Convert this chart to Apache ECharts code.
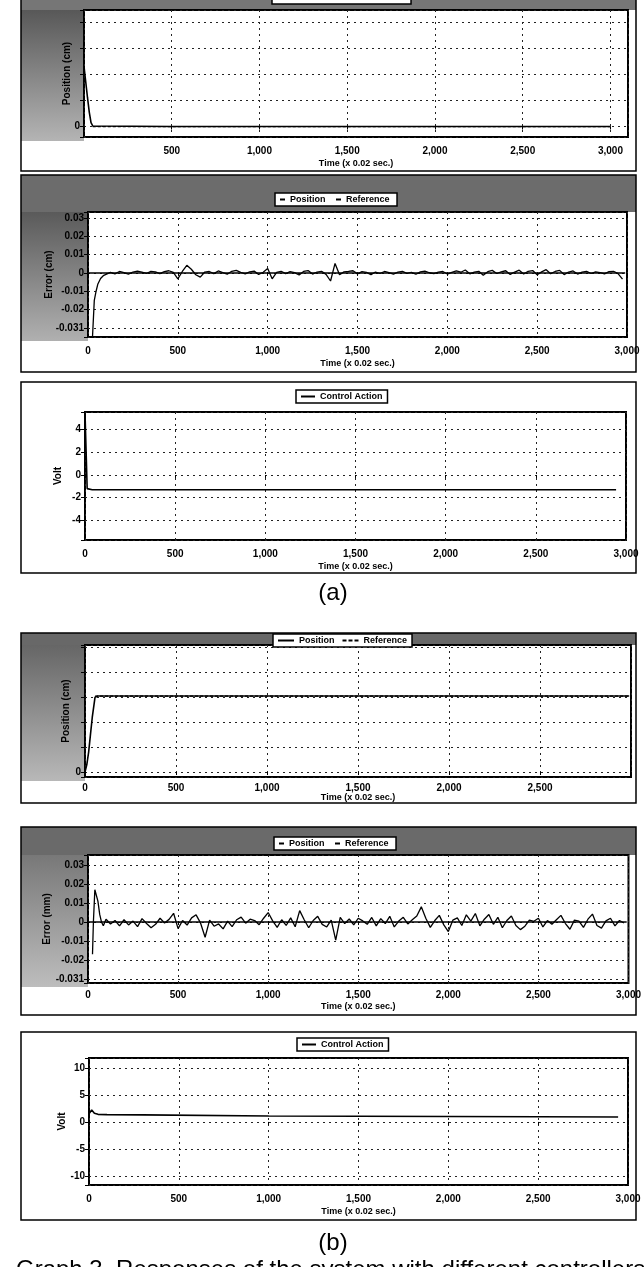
<!DOCTYPE html>
<html><head><meta charset="utf-8">
<script src="https://cdn.jsdelivr.net/npm/echarts@6/dist/echarts.min.js"></script>
<style>html,body{margin:0;padding:0;background:#fff}#c{width:644px;height:1267px}</style>
</head><body><div id="c"></div>
<script>
// ---------------- DATA ----------------
const xTicks = [0, 500, 1000, 1500, 2000, 2500, 3000];
const xLabelsFull = ['0', '500', '1,000', '1,500', '2,000', '2,500', '3,000'];
const xLabelsP1 = ['', '500', '1,000', '1,500', '2,000', '2,500', '3,000'];
const xLabelsP4 = ['0', '500', '1,000', '1,500', '2,000', '2,500', ''];
const xTitle = 'Time (x 0.02 sec.)';

const yTicksPos = [0, 1, 2, 3, 4, 5];
const yLabelsPos = ['0', '', '', '', '', ''];
const yTicksErr = [-0.03, -0.02, -0.01, 0, 0.01, 0.02, 0.03];
const yLabelsErr = ['-0.031', '-0.02', '-0.01', '0', '0.01', '0.02', '0.03'];
const yTicksVoltA = [-4, -2, 0, 2, 4];
const yLabelsVoltA = ['-4', '-2', '0', '2', '4'];
const yTicksVoltB = [-10, -5, 0, 5, 10];
const yLabelsVoltB = ['-10', '-5', '0', '5', '10'];

// (a) top panel: position
const tPosA = [0, 10, 20, 30, 40, 50, 60, 500, 1000, 1500, 2000, 2500, 3000];
const vPosA = [2.3, 1.7, 1.1, 0.55, 0.15, 0.02, 0, 0, 0, 0, 0, 0, 0];
const tRefA = [50, 3000];
const vRefA = [0, 0];

// error samples (shared sample times after the transient)
const tErr = [100,125,150,175,200,225,250,275,300,325,350,375,400,425,450,475,500,525,550,575,
  600,625,650,675,700,725,750,775,800,825,850,875,900,925,950,975,1000,1025,1050,1075,
  1100,1125,1150,1175,1200,1225,1250,1275,1300,1325,1350,1375,1400,1425,1450,1475,1500,1525,1550,1575,
  1600,1625,1650,1675,1700,1725,1750,1775,1800,1825,1850,1875,1900,1925,1950,1975,2000,2025,2050,2075,
  2100,2125,2150,2175,2200,2225,2250,2275,2300,2325,2350,2375,2400,2425,2450,2475,2500,2525,2550,2575,
  2600,2625,2650,2675,2700,2725,2750,2775,2800,2825,2850,2875,2900,2925,2950,2975];

// (a) middle panel: error
const tErrInitA = [25, 35, 45, 55, 70, 85];
const vErrInitA = [-0.035, -0.015, -0.010, -0.006, -0.003, -0.0015];
const vErrA = [-0.0008,0.0003,-0.0005,0.0008,0.0002,-0.0006,0.0005,0.0010,0.0004,-0.0003,0.0009,0.0006,-0.0004,0.0007,0.0012,0.0003,-0.0032,0.0008,0.0042,0.0020,
  -0.0010,-0.0023,0.0005,0.0008,-0.0004,0.0011,0.0002,-0.0007,0.0009,0.0014,0.0003,-0.0005,0.0006,0.0010,-0.0008,0.0004,0.0024,-0.0032,0.0003,0.0009,
  -0.0004,0.0007,0.0002,-0.0011,0.0008,0.0013,-0.0006,0.0005,0.0009,-0.0008,-0.0044,0.0052,-0.0010,0.0006,0.0008,0.0012,-0.0005,0.0007,0.0003,-0.0009,
  0.0005,-0.0003,0.0008,0.0002,-0.0006,0.0004,0.0009,-0.0002,0.0003,-0.0007,0.0006,0.0010,0.0001,-0.0004,0.0005,0.0008,-0.0006,0.0003,0.0011,0.0004,
  0.0016,-0.0005,0.0004,0.0009,-0.0012,0.0007,0.0014,-0.0003,0.0006,0.0012,-0.0008,0.0005,0.0015,-0.0006,0.0009,0.0013,-0.0010,0.0006,0.0018,-0.0004,
  0.0008,0.0014,-0.0009,0.0005,0.0011,-0.0006,0.0004,0.0009,-0.0003,0.0006,0.0002,-0.0005,0.0007,0.0009,-0.0004,-0.0034];
const tErrRef = [0, 2990];
const vErrRef = [0, 0];

// (a) bottom panel: control action
const tCtrlA = [0, 12, 20, 40, 100, 500, 1000, 1500, 2000, 2500, 2945];
const vCtrlA = [5.5, -1.2, -1.3, -1.3, -1.3, -1.3, -1.3, -1.3, -1.3, -1.3, -1.3];

// (b) top panel: position
const tPosB = [0, 10, 20, 30, 40, 55, 70, 500, 1000, 1500, 2000, 2500, 2990];
const vPosB = [0, 0.3, 0.8, 1.5, 2.2, 3.0, 3.05, 3.05, 3.05, 3.05, 3.05, 3.05, 3.05];
const tRefB = [55, 2990];
const vRefB = [3.05, 3.05];

// (b) middle panel: error
const tErrInitB = [25, 30, 38, 45, 55, 65, 75, 85];
const vErrInitB = [-0.017, 0.0, 0.017, 0.018, 0.011, 0.004, 0.0, -0.002];
const vErrB = [0.0015,-0.0010,0.0008,-0.0020,0.0012,-0.0015,0.0005,-0.0024,0.0018,-0.0008,-0.0030,-0.0012,0.0020,-0.0005,0.0014,0.0046,-0.0035,0.0008,-0.0016,0.0022,
  0.0038,-0.0006,-0.0080,0.0010,-0.0022,-0.0010,-0.0036,0.0005,-0.0024,0.0012,0.0026,-0.0006,0.0015,0.0008,-0.0014,0.0020,0.0050,0.0006,-0.0028,0.0012,
  -0.0018,0.0022,-0.0025,0.0060,0.0012,-0.0030,0.0008,0.0030,-0.0012,-0.0026,0.0010,-0.0095,0.0024,-0.0008,0.0016,-0.0015,0.0020,0.0006,-0.0012,0.0024,
  -0.0020,0.0018,-0.0008,0.0030,-0.0026,0.0005,0.0025,-0.0010,0.0012,0.0032,0.0080,0.0020,-0.0028,0.0008,0.0035,-0.0015,-0.0050,0.0010,0.0022,-0.0018,
  0.0038,0.0005,0.0045,-0.0020,0.0015,0.0040,-0.0012,0.0025,-0.0030,0.0008,0.0032,-0.0018,-0.0040,-0.0022,0.0010,0.0004,0.0020,-0.0026,0.0008,-0.0012,
  0.0012,0.0035,-0.0008,-0.0038,0.0010,0.0005,-0.0028,0.0015,0.0042,-0.0018,-0.0032,0.0006,0.0020,-0.0020,0.0008,-0.0005];

// (b) bottom panel: control action
const tCtrlB = [0, 15, 30, 50, 100, 300, 1000, 1500, 2000, 2500, 2945];
const vCtrlB = [1.5, 2.2, 1.6, 1.4, 1.35, 1.3, 1.1, 1.05, 1.0, 0.95, 0.9];

// ---------------- LAYOUT / STYLE ----------------
const FONT = '"Liberation Sans Narrow","Liberation Sans",Arial,sans-serif';
const pairs = (t, v) => t.map((x, i) => [x, v[i]]);
function fmt(ticks, labels) {
  return function (v) {
    for (let i = 0; i < ticks.length; i++) if (Math.abs(ticks[i] - v) < 1e-7) return labels[i];
    return '';
  };
}
const panels = [
  {frame: [21, -2, 615, 173], plot: [84, 10, 544, 127], gray: true, xMax: 3100, xl: xLabelsP1, lm: 9, ng: 22,
   y: [-0.4, 4.45], step: 1, split: 5, yt: yTicksPos, yl: yLabelsPos, yName: 'Position (cm)', yg: 12, top: '#767676', left: ['#585858', '#b4b4b4']},
  {frame: [21, 175, 615, 197], plot: [88, 212, 539, 125], gray: true, xMax: 3000, xl: xLabelsFull, lm: 9, ng: 22,
   y: [-0.035, 0.0333], step: 0.01, split: 7, yt: yTicksErr, yl: yLabelsErr, yName: 'Error (cm)', yg: 34, top: '#6c6c6c', left: ['#5a5a5a', '#b0b0b0']},
  {frame: [21, 382, 615, 191], plot: [85, 412, 541, 128], gray: false, xMax: 3000, xl: xLabelsFull, lm: 9, ng: 22,
   y: [-5.73, 5.55], step: 2, split: 6, yt: yTicksVoltA, yl: yLabelsVoltA, yName: 'Volt', yg: 22},
  {frame: [21, 633, 615, 170], plot: [85, 645, 546, 132], gray: true, xMax: 3000, xl: xLabelsP4, lm: 6, ng: 16,
   y: [-0.2, 5.1], step: 1, split: 5, yt: yTicksPos, yl: yLabelsPos, yName: 'Position (cm)', yg: 14, top: '#686868', left: ['#666666', '#b8b8b8']},
  {frame: [21, 827, 615, 188], plot: [88, 855, 542, 128], gray: true, xMax: 3000, xl: xLabelsFull, lm: 7, ng: 19,
   y: [-0.0321, 0.0353], step: 0.01, split: 7, yt: yTicksErr, yl: yLabelsErr, yName: 'Error (mm)', yg: 36, top: '#6a6a6a', left: ['#787878', '#bdbdbd']},
  {frame: [21, 1032, 615, 188], plot: [89, 1058, 539, 127], gray: false, xMax: 3000, xl: xLabelsFull, lm: 9, ng: 22,
   y: [-11.7, 11.85], step: 5, split: 5, yt: yTicksVoltB, yl: yLabelsVoltB, yName: 'Volt', yg: 22}
];

const grids = [], xAxes = [], yAxes = [], graphics = [];
const txt = (size, weight) => ({color: '#000', fontFamily: FONT, fontSize: size, fontWeight: weight || 'bold'});
panels.forEach((p, i) => {
  const [fx, fy, fw, fh] = p.frame;
  const [pl, pt, pw, ph] = p.plot;
  if (p.gray) {
    graphics.push({type: 'rect', z: -5, silent: true, shape: {x: fx, y: fy, width: fw, height: pt - fy}, style: {fill: p.top}});
    graphics.push({type: 'rect', z: -5, silent: true, shape: {x: fx, y: pt, width: pl - fx, height: ph + 4},
      style: {fill: new echarts.graphic.LinearGradient(0, 0, 0, 1, [{offset: 0, color: p.left[0]}, {offset: 1, color: p.left[1]}])}});
  }
  graphics.push({type: 'rect', z: -4, silent: true, shape: {x: fx, y: fy, width: fw, height: fh}, style: {fill: 'none', stroke: '#000', lineWidth: 1.5}});
  grids.push({left: pl, top: pt, width: pw, height: ph, show: true, backgroundColor: '#fff', borderColor: '#000', borderWidth: 2, containLabel: false});
  xAxes.push({type: 'value', gridIndex: i, min: 0, max: p.xMax, interval: 500,
    axisLine: {show: false}, axisTick: {show: true, length: 3, lineStyle: {color: '#000'}},
    splitLine: {show: true, lineStyle: {color: '#222', type: [2, 4], width: 1}},
    axisLabel: {formatter: fmt(xTicks, p.xl), margin: p.lm, ...txt(10)},
    name: xTitle, nameLocation: 'middle', nameGap: p.ng, nameMoveOverlap: false, nameTextStyle: txt(9)});
  yAxes.push({type: 'value', gridIndex: i, min: p.y[0], max: p.y[1], splitNumber: p.split, minInterval: p.step, maxInterval: p.step,
    axisLine: {show: false}, axisTick: {show: true, length: 4, lineStyle: {color: '#000'}},
    splitLine: {show: true, lineStyle: {color: '#222', type: [2, 4], width: 1}},
    axisLabel: {formatter: fmt(p.yt, p.yl), margin: 4, ...txt(10)},
    name: p.yName, nameLocation: 'middle', nameGap: p.yg, nameRotate: 90, nameMoveOverlap: false,
    nameTextStyle: txt(10, 'bold')});
});

const lineS = (name, gi, data, extra) => Object.assign({
  type: 'line', name: name, xAxisIndex: gi, yAxisIndex: gi, data: data, symbol: 'none', showSymbol: false,
  clip: true, animation: false, lineStyle: {color: '#000', width: 1.6}, itemStyle: {color: '#000'}
}, extra || {});

const series = [
  lineS('Reference', 0, pairs(tRefA, vRefA), {lineStyle: {color: '#000', width: 1.2, type: [3, 2]}}),
  lineS('Position', 0, pairs(tPosA, vPosA)),
  lineS('Reference ', 1, pairs(tErrRef, vErrRef), {lineStyle: {color: '#000', width: 1.6}}),
  lineS('Position ', 1, pairs(tErrInitA, vErrInitA).concat(pairs(tErr, vErrA)), {lineStyle: {color: '#000', width: 1.3}}),
  lineS('Control Action', 2, pairs(tCtrlA, vCtrlA)),
  lineS('Reference', 3, pairs(tRefB, vRefB), {lineStyle: {color: '#000', width: 1.2, type: [3, 2]}}),
  lineS('Position', 3, pairs(tPosB, vPosB)),
  lineS('Reference ', 4, pairs(tErrRef, vErrRef), {lineStyle: {color: '#000', width: 1.6}}),
  lineS('Position ', 4, pairs(tErrInitB, vErrInitB).concat(pairs(tErr, vErrB)), {lineStyle: {color: '#000', width: 1.3}}),
  lineS('Control Action', 5, pairs(tCtrlB, vCtrlB))
];

const DASH_ICON = 'path://M0,0H4V2H0Z M6,0H10V2H6Z M12,0H16V2H12Z';
const legendBase = {orient: 'horizontal', selectedMode: false, icon: 'rect', backgroundColor: '#fff', borderColor: '#000', borderWidth: 1.5,
  borderRadius: 0, padding: [2, 5], itemGap: 8, itemHeight: 2, z: 10, textStyle: txt(9)};
const legends = [
  Object.assign({}, legendBase, {left: 272, top: -9, itemWidth: 16, data: [{name: 'Position', icon: 'rect'}, {name: 'Reference', icon: DASH_ICON}]}),
  Object.assign({}, legendBase, {left: 275, top: 193, itemWidth: 5, data: ['Position ', 'Reference ']}),
  Object.assign({}, legendBase, {left: 296, top: 390, itemWidth: 14, data: ['Control Action']}),
  Object.assign({}, legendBase, {left: 273, top: 634, itemWidth: 16, data: [{name: 'Position', icon: 'rect'}, {name: 'Reference', icon: DASH_ICON}]}),
  Object.assign({}, legendBase, {left: 274, top: 837, itemWidth: 5, data: ['Position ', 'Reference ']}),
  Object.assign({}, legendBase, {left: 297, top: 1038, itemWidth: 14, data: ['Control Action']})
];

const BIG = '24px "Liberation Sans", Arial, sans-serif';
graphics.push({type: 'text', z: 5, style: {text: '(a)', x: 333, y: 593, align: 'center', verticalAlign: 'middle', fill: '#000', font: BIG}});
graphics.push({type: 'text', z: 5, style: {text: '(b)', x: 333, y: 1243, align: 'center', verticalAlign: 'middle', fill: '#000', font: BIG}});
graphics.push({type: 'text', z: 5, style: {text: 'Graph 3. Responses of the system with different controllers', x: 16, y: 1258, align: 'left', verticalAlign: 'top', fill: '#000', font: BIG}});

const chart = echarts.init(document.getElementById('c'), null, {renderer: 'canvas', width: 644, height: 1267});
chart.setOption({
  backgroundColor: '#fff',
  animation: false,
  grid: grids, xAxis: xAxes, yAxis: yAxes, series: series, legend: legends,
  graphic: {elements: graphics}
});
</script></body></html>
